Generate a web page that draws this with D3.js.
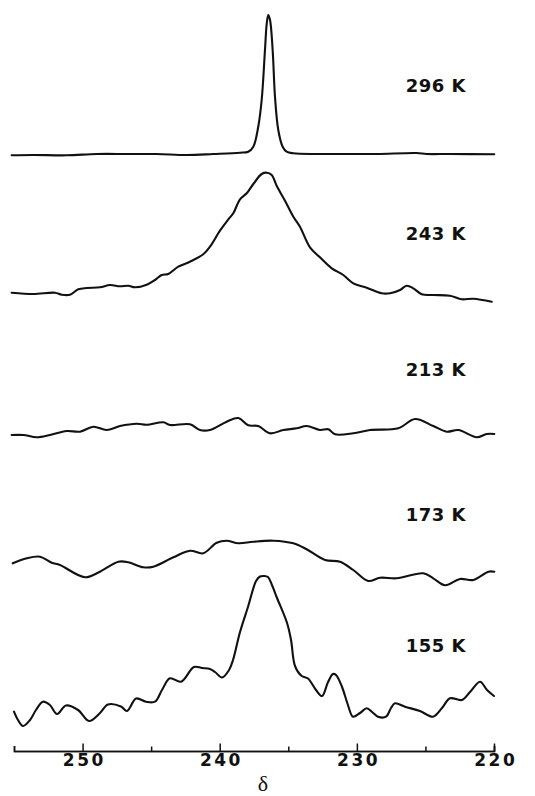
<!DOCTYPE html>
<html>
<head>
<meta charset="utf-8">
<script src="https://cdn.jsdelivr.net/npm/d3@7"></script>
<style>
  body { margin: 0; background: #fff; }
  svg { display: block; }
  .trace { fill: none; stroke: #111; stroke-width: 2.1; stroke-linejoin: round; stroke-linecap: round; }
  .temp { font-family: "DejaVu Sans", sans-serif; font-weight: bold; font-size: 18px; fill: #111; letter-spacing: 0.5px; }
  .axis text { font-family: "DejaVu Sans", sans-serif; font-weight: bold; font-size: 17px; letter-spacing: 2.5px; fill: #111; }
  .axis path, .axis line { stroke: #111; stroke-width: 1.5; }
  .xlabel { font-family: "Liberation Serif", "DejaVu Serif", serif; font-size: 22px; fill: #111; }
</style>
</head>
<body>
<svg id="chart" width="535" height="796"></svg>
<script>
// temperatures, top to bottom
const temps = ["296 K", "243 K", "213 K", "173 K", "155 K"];

// [chemical shift (ppm), intensity]
const t296 = [[255.17, -0.3], [253.59, 0], [251.16, -0.3], [248.97, 1], [246.78, 1], [244.6, 1],
  [242.41, 0], [240.47, 1], [238.52, 2.3], [237.92, 3.3], [237.55, 8.3], [237.19, 28.3],
  [236.94, 55], [236.7, 105], [236.57, 131.7], [236.46, 140], [236.33, 135], [236.14, 105],
  [235.97, 58.3], [235.73, 25], [235.41, 8.3], [235.12, 3.3], [234.63, 1.7], [232.93, 1],
  [230.5, 1], [228.55, 1], [225.64, 2], [224.91, 1], [223.21, 1], [219.98, 0.7]];

const t243 = [[255.17, 2.3], [253.59, 1], [252.01, 2.3], [251.52, 0.3], [250.92, 0.3], [250.31, 5.7],
  [249.7, 7], [248.73, 7.7], [248.0, 10], [247.27, 8.7], [246.67, 9.3], [246.18, 7.7],
  [245.32, 10.3], [244.72, 15], [244.23, 20], [243.75, 21], [243.02, 28.3], [242.17, 33.3],
  [241.2, 40.7], [240.71, 48.3], [239.98, 64.3], [239.37, 75.7], [239.01, 81.7], [238.52, 95.7],
  [238.03, 101.7], [237.55, 111], [236.94, 121], [236.57, 122.3], [236.21, 120], [235.84, 109],
  [235.24, 94.3], [234.63, 78.3], [234.15, 68.3], [233.42, 47.7], [232.69, 37.7], [231.83, 26.7],
  [230.99, 20], [230.26, 11.7], [229.28, 7.3], [228.19, 1.7], [227.58, 1.7], [226.85, 5],
  [226.37, 9.3], [225.88, 6.7], [225.27, 0.7], [224.43, 0], [223.21, -0.7], [222.35, -4.3],
  [221.51, -3.7], [220.17, -6.7]];

const t213 = [[255.17, 0], [254.32, 0], [253.34, -2.3], [252.37, 0], [251.16, 4], [250.19, 3.3],
  [249.22, 8.3], [248.24, 5], [247.27, 9], [246.05, 11.3], [245.32, 10.3], [244.11, 12.7],
  [243.63, 10], [242.17, 10.7], [241.44, 5], [240.71, 5], [239.49, 13.3], [238.64, 17],
  [237.92, 9.7], [237.19, 9], [236.33, 1.7], [235.36, 5], [234.39, 6.7], [233.66, 9],
  [232.69, 5], [232.08, 5.7], [231.59, 0.7], [230.26, 1.7], [229.04, 5], [226.98, 6.7],
  [225.76, 16], [224.43, 9], [223.45, 3.3], [222.6, 5], [221.26, -2.3], [220.53, 1], [219.98, 1]];

const t173 = [[255.09, 16.7], [254.07, 21.7], [253.1, 23.3], [252.25, 17.3], [251.65, 15], [249.82, 2.7],
  [248.73, 8.3], [247.39, 18.3], [246.67, 17.7], [245.57, 12.7], [244.84, 13.3], [243.38, 22.7],
  [242.17, 29.3], [241.2, 26.7], [240.22, 37.3], [239.49, 39.3], [238.64, 36.7], [237.55, 38.3],
  [236.09, 39.3], [234.63, 36.7], [233.66, 30.7], [232.32, 20], [231.23, 18.3], [230.26, 10],
  [229.17, -1], [228.31, 2.3], [227.09, 1.7], [225.16, 6.7], [224.43, 1.7], [223.57, -5.3],
  [222.48, 1], [221.51, 0], [220.41, 8.3], [219.98, 8.3]];

const t155 = [[255.0, 8.3], [254.71, 0], [254.34, -6], [253.83, 0], [253.4, 10], [252.89, 18.3],
  [252.38, 15], [251.86, 6], [251.21, 14.5], [250.33, 10], [249.53, -1], [248.73, 7],
  [248.15, 15.5], [247.2, 13.5], [246.76, 9], [246.1, 21.5], [245.38, 18.3], [244.72, 18.3],
  [244.21, 30], [243.63, 41.7], [242.82, 38.3], [241.88, 53], [241.29, 52], [240.71, 51],
  [240.34, 48], [239.83, 42.5], [239.32, 50], [239.03, 60], [238.52, 88], [237.94, 113],
  [237.35, 139], [237.06, 143.5], [236.77, 144], [236.48, 143], [236.19, 135], [235.82, 122],
  [235.09, 97], [234.8, 80], [234.51, 54], [234.02, 44], [233.56, 41.5], [232.98, 30],
  [232.54, 24], [232.1, 38], [231.74, 46], [231.52, 45], [231.08, 33], [230.65, 15],
  [230.28, 3.3], [229.77, 7], [229.28, 11.7], [228.89, 8], [228.46, 3.3], [227.87, 3.3],
  [227.51, 12], [227.22, 16.7], [226.49, 13.3], [225.4, 9], [224.45, 3.3], [223.79, 12],
  [223.21, 21.7], [222.35, 20], [221.75, 28], [221.02, 38.3], [220.51, 30], [220.0, 24]];

const spectra = [t296, t243, t213, t173, t155];

// axis ticks
const majorTicks = [250, 240, 230, 220];
const minorTicks = [245, 235, 225];

const svg = d3.select("#chart");

const x = d3.scaleLinear().domain([255, 220]).range([14, 494]);

// vertical layout of the stacked traces
const baseY = [155, 295, 435, 580, 720];
const labelY = [92, 240, 376, 521, 652];

spectra.forEach((data, i) => {
  const y = d3.scaleLinear().domain([0, 100]).range([baseY[i], baseY[i] - 100]);
  const line = d3.line()
    .x(d => x(d[0]))
    .y(d => y(d[1]))
    .curve(d3.curveCatmullRom.alpha(0.5));

  svg.append("path")
    .datum(data)
    .attr("class", "trace")
    .attr("d", line);

  svg.append("text")
    .attr("class", "temp")
    .attr("x", 466)
    .attr("y", labelY[i])
    .attr("text-anchor", "end")
    .text(temps[i]);
});

// x axis, ticks pointing up
const axisY = 751;
svg.append("g")
  .attr("class", "axis")
  .attr("transform", `translate(0,${axisY})`)
  .call(d3.axisBottom(x)
    .tickValues(majorTicks)
    .tickSizeInner(-7.5)
    .tickSizeOuter(-5)
    .tickPadding(3)
    .tickFormat(d3.format("d")))
  .selectAll("text")
  .attr("dx", "1.25px");

svg.append("g")
  .attr("class", "axis")
  .attr("transform", `translate(0,${axisY})`)
  .call(d3.axisBottom(x)
    .tickValues(minorTicks)
    .tickSizeInner(-4.5)
    .tickSizeOuter(-5)
    .tickFormat(""));

svg.append("text")
  .attr("class", "xlabel")
  .attr("x", 263)
  .attr("y", 791)
  .attr("text-anchor", "middle")
  .text("δ");
</script>
</body>
</html>
